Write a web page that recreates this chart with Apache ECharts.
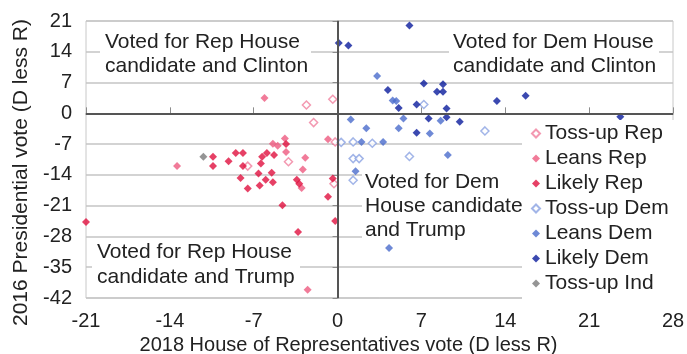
<!DOCTYPE html>
<html>
<head>
<meta charset="utf-8">
<script src="https://cdn.jsdelivr.net/npm/echarts@6/dist/echarts.min.js"></script>
<style>
  html, body { margin: 0; padding: 0; background: #fff; }
  #chart { width: 687px; height: 354px; }
</style>
</head>
<body>
<div id="chart"></div>
<script>
// 2018 House vote margin (x) vs 2016 presidential margin (y), D less R
var tossupRep = [[-2.6, 1.9], [-0.4, 3.2], [-2.0, -2.1], [-0.2, -6.5], [-4.1, -11.0], [-7.5, -12.0], [-0.3, -16.0]];
var leansRep = [[-6.1, 3.5], [-13.4, -12.0], [-2.5, -40.1], [-0.8, -5.9], [-4.4, -5.7], [-5.4, -6.9], [-5.0, -7.4],
    [-4.3, -8.8], [-2.7, -10.1], [-2.9, -12.8], [-3.0, -17.0]];
var likelyRep = [[-21.0, -24.7], [-10.4, -9.9], [-10.4, -12.0], [-9.1, -10.9], [-8.5, -9.0], [-7.9, -9.0], [-7.9, -12.0],
    [-8.1, -14.7], [-7.5, -17.1], [-6.6, -13.7], [-6.5, -16.4], [-6.3, -9.9], [-5.9, -9.0], [-5.3, -9.5], [-6.4, -11.4],
    [-6.0, -15.1], [-5.5, -13.5], [-5.4, -15.7], [-4.3, -7.0], [-4.6, -20.9], [-3.4, -15.1], [-3.2, -16.0], [-3.3, -27.0],
    [-0.4, -14.8], [-0.8, -19.0], [-0.2, -24.5]];
var tossupDem = [[0.3, -6.6], [1.3, -6.5], [2.9, -6.8], [1.3, -10.3], [1.8, -10.3], [1.3, -15.2], [6.0, -9.8], [12.3, -4.0], [7.2, 2.0]];
var leansDem = [[1.1, -1.4], [2.4, -3.4], [5.5, -1.2], [5.1, -3.4], [7.7, -4.6], [8.6, -1.7], [9.2, -9.5], [1.5, -13.2],
    [4.3, -30.6], [3.3, 8.5], [4.6, 2.9], [4.9, 2.8], [2.0, -6.5], [3.8, -6.5]];
var likelyDem = [[6.0, 20.0], [0.1, 16.0], [0.9, 15.4], [4.2, 5.3], [7.2, 6.8], [8.8, 6.6], [8.3, 4.9], [8.8, 4.9], [5.1, 1.2],
    [6.6, 2.0], [9.1, 1.1], [6.6, -4.4], [7.6, -1.2], [9.1, -0.9], [10.2, -1.9], [13.3, 2.8], [15.7, 4.0], [23.6, -0.8]];
var tossupInd = [[-11.2, -9.9]];

var xMin = -21, xMax = 28, yMin = -42, yMax = 21, step = 7;

var font = 'Liberation Sans, Arial, sans-serif';

var chart = echarts.init(document.getElementById('chart'));

function pts(name, data, color, hollow) {
    return {
        name: name,
        type: 'scatter',
        symbol: 'diamond',
        symbolSize: 8,
        itemStyle: hollow ? { color: '#fff', borderColor: color, borderWidth: 1.5 } : { color: color },
        data: data
    };
}

var option = {
    animation: false,
    grid: {
        left: 86, right: 14, top: 21, bottom: 56,
        outerBoundsMode: 'none',
        show: true, borderColor: '#c8c8c8', borderWidth: 1
    },
    legend: {
        orient: 'vertical',
        left: 522,
        top: 120,
        padding: [3, 6, 8, 9],
        backgroundColor: '#fff',
        itemGap: 4,
        itemWidth: 8,
        itemHeight: 8,
        textStyle: { fontFamily: font, fontSize: 21, color: '#222', lineHeight: 20 },
        data: [
            { name: 'Toss-up Rep', icon: 'diamond' },
            { name: 'Leans Rep', icon: 'diamond' },
            { name: 'Likely Rep', icon: 'diamond' },
            { name: 'Toss-up Dem', icon: 'diamond' },
            { name: 'Leans Dem', icon: 'diamond' },
            { name: 'Likely Dem', icon: 'diamond' },
            { name: 'Toss-up Ind', icon: 'diamond' }
        ]
    },
    xAxis: {
        type: 'value',
        min: xMin, max: xMax, interval: step,
        name: '2018 House of Representatives vote (D less R)',
        nameLocation: 'middle',
        nameGap: 26,
        nameTextStyle: { fontFamily: font, fontSize: 20, color: '#222', lineHeight: 20, padding: [0, 62, 0, 0] },
        axisLine: { lineStyle: { color: '#8c8c8c', width: 1.5 } },
        axisTick: { inside: true, length: 6, lineStyle: { color: '#8c8c8c' } },
        axisLabel: { fontFamily: font, fontSize: 20, color: '#222', margin: 13 },
        splitLine: { show: false }
    },
    yAxis: {
        type: 'value',
        min: yMin, max: yMax, interval: step,
        name: '2016 Presidential vote (D less R)',
        nameLocation: 'middle',
        nameGap: 47,
        nameTextStyle: { fontFamily: font, fontSize: 21, color: '#222', padding: [0, 26, 0, 0] },
        axisLine: { show: true, lineStyle: { color: '#8c8c8c', width: 1.5 } },
        axisTick: { show: true, length: 5, lineStyle: { color: '#8c8c8c' } },
        axisLabel: { fontFamily: font, fontSize: 20, color: '#222', margin: 14 },
        splitLine: { lineStyle: { color: '#c4c4c4', width: 1.5 } }
    },
    graphic: [
        { type: 'rect', z: 1, shape: { x: 100, y: 29, width: 211, height: 50 }, style: { fill: '#fff' } },
        { type: 'text', z: 3, left: 105, top: 30, style: { text: 'Voted for Rep House\ncandidate and Clinton', font: '21px ' + font, fill: '#222', lineHeight: 24 } },
        { type: 'rect', z: 1, shape: { x: 449, y: 29, width: 210, height: 50 }, style: { fill: '#fff' } },
        { type: 'text', z: 3, left: 453, top: 30, style: { text: 'Voted for Dem House\ncandidate and Clinton', font: '21px ' + font, fill: '#222', lineHeight: 24 } },
        { type: 'rect', z: 1, shape: { x: 92, y: 239, width: 208, height: 52 }, style: { fill: '#fff' } },
        { type: 'text', z: 3, left: 97, top: 240, style: { text: 'Voted for Rep House\ncandidate and Trump', font: '21px ' + font, fill: '#222', lineHeight: 25 } },
        { type: 'rect', z: 1, shape: { x: 362, y: 169, width: 160, height: 74 }, style: { fill: '#fff' } },
        { type: 'text', z: 3, left: 365, top: 170, style: { text: 'Voted for Dem\nHouse candidate\nand Trump', font: '21px ' + font, fill: '#222', lineHeight: 24 } }
    ],
    series: [
        pts('Toss-up Rep', tossupRep, '#f07f9e', true),
        pts('Leans Rep', leansRep, '#ee5a80', false),
        pts('Likely Rep', likelyRep, '#e0103f', false),
        pts('Toss-up Dem', tossupDem, '#8ba3e2', true),
        pts('Leans Dem', leansDem, '#4a6ccc', false),
        pts('Likely Dem', likelyDem, '#0a1c9c', false),
        pts('Toss-up Ind', tossupInd, '#7a7a7a', false),
        {
            name: 'zero',
            type: 'scatter',
            data: [],
            silent: true,
            markLine: {
                silent: true,
                symbol: 'none',
                label: { show: false },
                lineStyle: { color: '#555', width: 2, type: 'solid' },
                data: [{ xAxis: 0 }, { yAxis: 0 }]
            }
        }
    ]
};

chart.setOption(option);
</script>
</body>
</html>
